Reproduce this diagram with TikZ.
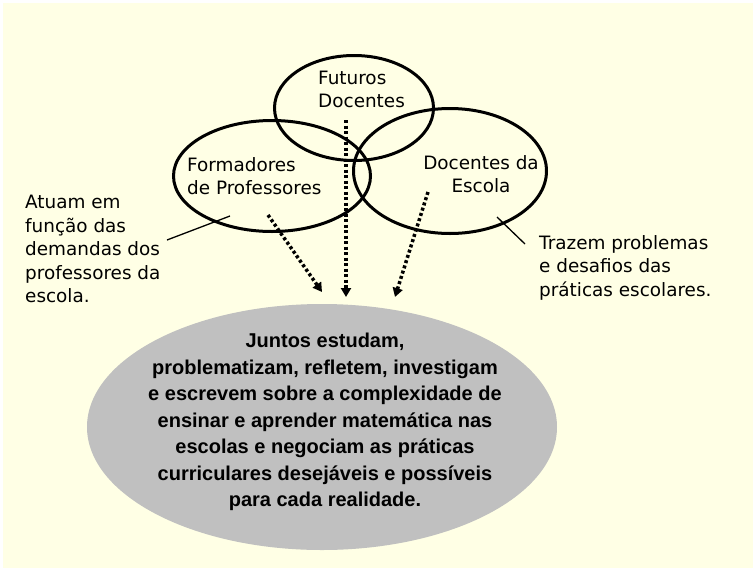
\documentclass[tikz,border=0pt]{standalone}
\usepackage{fontspec}
\newfontfamily\verdfont{DejaVu Sans}
\newfontfamily\arialfont{Liberation Sans}
\usetikzlibrary{arrows.meta, positioning, shapes.geometric}
\definecolor{creambg}{RGB}{255,255,229}
\definecolor{ovalgray}{RGB}{192,192,192}

\begin{document}
\begin{tikzpicture}[x=1pt, y=-1pt,
    group_oval/.style={draw=black, line width=3pt, ellipse, inner sep=0pt},
    group_text/.style={inner sep=0pt, font=\verdfont\fontsize{18.4}{23}\selectfont},
    note_text/.style={inner sep=0pt, align=left, font=\verdfont\fontsize{18.4}{23.5}\selectfont},
    leader/.style={line width=1.3pt, draw=black},
    flow_arrow/.style={line width=3.5pt, dash pattern=on 3pt off 2.5pt, -{Triangle[length=9pt, width=10pt]}},
    main_text/.style={inner sep=0pt, align=center, font=\arialfont\bfseries\fontsize{20}{26.5}\selectfont}
]

    % background
    \useasboundingbox (0,0) rectangle (753,568);
    \fill[white] (0,0) rectangle (753,568);
    \fill[creambg] (3,3) rectangle (753,568);

    % the three groups
    \node[group_oval, minimum width=159pt, minimum height=105pt] (futuros) at (354,108) {};
    \node[group_oval, minimum width=197pt, minimum height=111pt] (formadores) at (272,176) {};
    \node[group_oval, minimum width=193pt, minimum height=125pt] (escola) at (450,171) {};

    \node[group_text, align=left, anchor=north west] (futuros_lbl) at (318,71) {Futuros\\Docentes};
    \node[group_text, align=left, anchor=north west] (formadores_lbl) at (187,157) {Formadores\\de Professores};
    \node[group_text, align=center, anchor=north] (escola_lbl) at (481,155) {Docentes da\\Escola};

    % side notes
    \node[note_text, anchor=north west] (note_left) at (25,195) {Atuam em\\função das\\demandas dos\\professores da\\escola.};
    \node[note_text, anchor=north west] (note_right) at (539,235) {Trazem problemas\\e desafios das\\práticas escolares.};

    \coordinate (lead_left) at (230,216);
    \coordinate (lead_left_end) at (167,240);
    \coordinate (lead_right) at (497,217);
    \coordinate (lead_right_end) at (525,244);
    \draw[leader] (lead_left) -- (lead_left_end);
    \draw[leader] (lead_right) -- (lead_right_end);

    % common work
    \node[ellipse, fill=ovalgray, minimum width=470pt, minimum height=246pt, inner sep=0pt] (juntos) at (322,427) {};
    \node[main_text, anchor=north] (juntos_lbl) at (325,333) {Juntos estudam,\\problematizam, refletem, investigam\\e escrevem sobre a complexidade de\\ensinar e aprender matemática nas\\escolas e negociam as práticas\\curriculares desejáveis e possíveis\\para cada realidade.};

    % dotted arrows into the common work
    \coordinate (from_formadores) at (268,215);
    \coordinate (from_futuros) at (346,120);
    \coordinate (from_escola) at (428,192);
    \coordinate (to_left) at (322,292);
    \coordinate (to_mid) at (346,297);
    \coordinate (to_right) at (395,297);
    \draw[flow_arrow] (from_formadores) -- (to_left);
    \draw[flow_arrow] (from_futuros) -- (to_mid);
    \draw[flow_arrow] (from_escola) -- (to_right);

\end{tikzpicture}
\end{document}
